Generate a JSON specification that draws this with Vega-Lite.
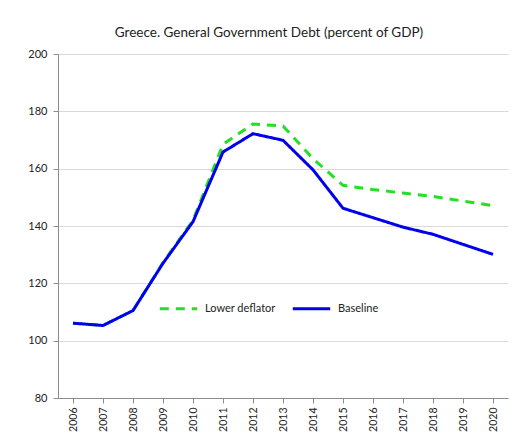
{
  "$schema": "https://vega.github.io/schema/vega-lite/v6.json",
  "width": 450,
  "height": 344,
  "autosize": {"type": "none"},
  "padding": {"left": 58, "top": 54, "right": 6, "bottom": 40},
  "background": "white",
  "config": {
    "font": "Lato",
    "view": {"stroke": null},
    "axis": {"labelFont": "Lato", "labelColor": "#222", "labelFontSize": 11, "domainColor": "#8c8c8c", "tickColor": "#8c8c8c", "gridColor": "#d9d9d9", "title": null}
  },
  "title": {"text": "Greece.  General Government Debt (percent of GDP)", "fontSize": 13.5, "fontWeight": "normal", "font": "Lato", "color": "#222", "anchor": "middle", "dx": -14, "offset": 9},
  "data": {
    "values": [
      {"year": "2006", "series": "Lower deflator", "debt": 106.1},
      {"year": "2007", "series": "Lower deflator", "debt": 105.3},
      {"year": "2008", "series": "Lower deflator", "debt": 110.5},
      {"year": "2009", "series": "Lower deflator", "debt": 127.2},
      {"year": "2010", "series": "Lower deflator", "debt": 142.0},
      {"year": "2011", "series": "Lower deflator", "debt": 168.5},
      {"year": "2012", "series": "Lower deflator", "debt": 175.6},
      {"year": "2013", "series": "Lower deflator", "debt": 174.9},
      {"year": "2014", "series": "Lower deflator", "debt": 163.5},
      {"year": "2015", "series": "Lower deflator", "debt": 154.2},
      {"year": "2016", "series": "Lower deflator", "debt": 152.7},
      {"year": "2017", "series": "Lower deflator", "debt": 151.5},
      {"year": "2018", "series": "Lower deflator", "debt": 150.3},
      {"year": "2019", "series": "Lower deflator", "debt": 148.7},
      {"year": "2020", "series": "Lower deflator", "debt": 147.1},
      {"year": "2006", "series": "Baseline", "debt": 106.1},
      {"year": "2007", "series": "Baseline", "debt": 105.3},
      {"year": "2008", "series": "Baseline", "debt": 110.5},
      {"year": "2009", "series": "Baseline", "debt": 127.0},
      {"year": "2010", "series": "Baseline", "debt": 141.5},
      {"year": "2011", "series": "Baseline", "debt": 165.8},
      {"year": "2012", "series": "Baseline", "debt": 172.2},
      {"year": "2013", "series": "Baseline", "debt": 169.9},
      {"year": "2014", "series": "Baseline", "debt": 159.6},
      {"year": "2015", "series": "Baseline", "debt": 146.2},
      {"year": "2016", "series": "Baseline", "debt": 142.9},
      {"year": "2017", "series": "Baseline", "debt": 139.6},
      {"year": "2018", "series": "Baseline", "debt": 137.1},
      {"year": "2019", "series": "Baseline", "debt": 133.6},
      {"year": "2020", "series": "Baseline", "debt": 130.1}
    ]
  },
  "mark": {"type": "line", "strokeWidth": 3},
  "encoding": {
    "x": {
      "field": "year", "type": "ordinal",
      "scale": {"paddingInner": 0, "paddingOuter": 0},
      "axis": {"labelAngle": -90, "bandPosition": 0, "ticks": true, "tickSize": 5, "labelPadding": 4, "labelFontSize": 10.5, "labelBaseline": "middle", "labelAlign": "right", "grid": false}
    },
    "y": {
      "field": "debt", "type": "quantitative",
      "scale": {"domain": [80, 200], "nice": false, "zero": false},
      "axis": {"values": [80, 100, 120, 140, 160, 180, 200], "grid": true, "tickSize": 5, "labelPadding": 6, "labelFontSize": 11}
    },
    "color": {
      "field": "series", "type": "nominal",
      "scale": {"domain": ["Lower deflator", "Baseline"], "range": ["#22e022", "#0000ee"]},
      "legend": {"title": null, "orient": "none", "legendX": 100, "legendY": 234, "direction": "horizontal", "symbolType": "stroke", "symbolSize": 1400, "symbolStrokeWidth": 3, "labelFontSize": 11, "labelColor": "#222", "labelFont": "Lato", "columnPadding": 10, "labelOffset": 6}
    },
    "strokeDash": {
      "field": "series", "type": "nominal",
      "scale": {"domain": ["Lower deflator", "Baseline"], "range": [[9, 7], [1, 0]]},
      "legend": {"title": null, "orient": "none", "legendX": 100, "legendY": 234, "direction": "horizontal", "symbolType": "stroke", "symbolSize": 1400, "symbolStrokeWidth": 3, "labelFontSize": 11, "labelColor": "#222", "labelFont": "Lato", "columnPadding": 10, "labelOffset": 6}
    }
  }
}
